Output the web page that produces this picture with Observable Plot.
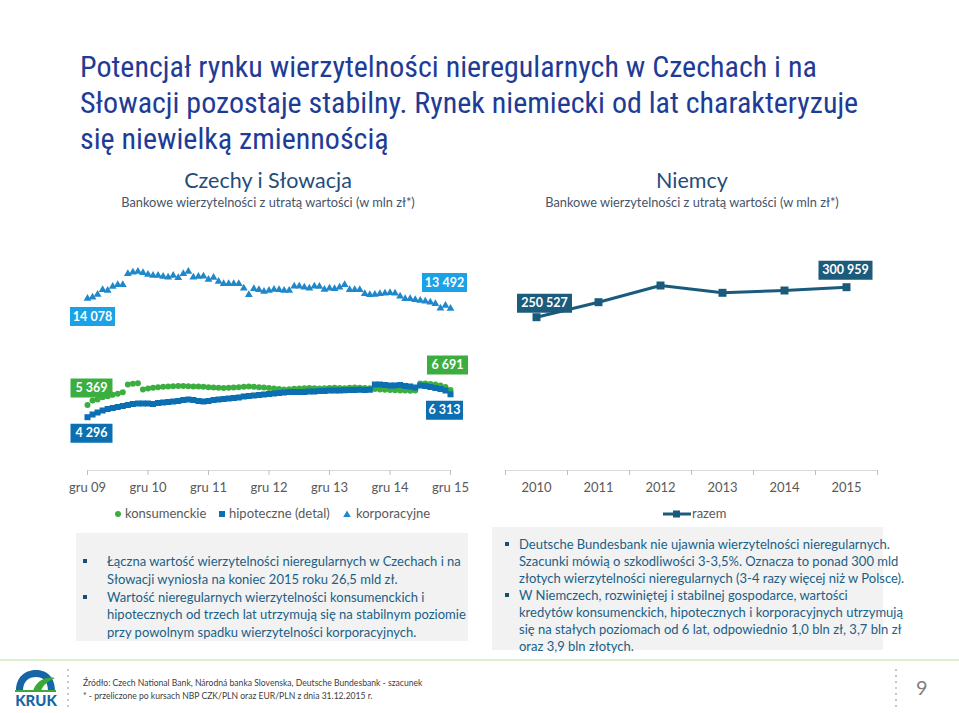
<!DOCTYPE html>
<html><head><meta charset="utf-8">
<script src="https://cdn.jsdelivr.net/npm/d3@7"></script>
<script src="https://cdn.jsdelivr.net/npm/@observablehq/plot@0.6"></script>
<style>
body{margin:0;background:#fff;}
#root{position:relative;width:959px;height:713px;overflow:hidden;font-family:Lato,"Open Sans",sans-serif;}
.abs{position:absolute;white-space:nowrap;}
#title{left:80px;top:49px;font-family:"Liberation Sans Narrow","Roboto Condensed",Roboto,sans-serif;font-size:30px;line-height:36px;color:#1e3c96;}
.hd{font-size:21.5px;color:#1f4e79;text-align:center;width:320px;}
.sub{font-size:12.8px;color:#44546a;text-align:center;width:320px;}
.box{background:#f2f2f2;color:#1b5f86;font-size:13px;}
.ln{position:relative;}
.bul{position:absolute;width:4px;height:4px;background:#1b4f72;}
.leg{font-size:13px;color:#595959;}
.plotwrap svg{overflow:visible;}
</style></head>
<body><div id="root">
<div id="title" class="abs">Potencjał rynku wierzytelności nieregularnych w Czechach i na<br>Słowacji pozostaje stabilny. Rynek niemiecki od lat charakteryzuje<br>się niewielką zmiennością</div>
<div class="abs hd" style="left:108px;top:167px;">Czechy i Słowacja</div>
<div class="abs sub" style="left:108px;top:194px;">Bankowe wierzytelności z utratą wartości (w mln zł*)</div>
<div class="abs hd" style="left:532px;top:167px;">Niemcy</div>
<div class="abs sub" style="left:532px;top:194px;">Bankowe wierzytelności z utratą wartości (w mln zł*)</div>

<div id="pTop" class="abs plotwrap" style="left:70px;top:255px;"></div>
<div id="pBot" class="abs plotwrap" style="left:70px;top:340px;"></div>
<div id="pRight" class="abs plotwrap" style="left:500px;top:255px;"></div>

<div class="abs leg" style="left:113px;top:505px;">
  <svg width="10" height="10" style="position:absolute;left:0;top:4px"><circle cx="5" cy="5" r="3" fill="#3cae3f"/></svg>
  <span style="position:absolute;left:12px;top:0">konsumenckie</span>
  <svg width="10" height="10" style="position:absolute;left:104px;top:4px"><rect x="2" y="2" width="6" height="6" fill="#0b6fb2"/></svg>
  <span style="position:absolute;left:116px;top:0">hipoteczne (detal)</span>
  <svg width="10" height="10" style="position:absolute;left:229px;top:4px"><path d="M5 1.5 L8.8 8 L1.2 8 Z" fill="#1f88cb"/></svg>
  <span style="position:absolute;left:243px;top:0">korporacyjne</span>
</div>
<div class="abs leg" style="left:663px;top:505px;">
  <svg width="30" height="10" style="position:absolute;left:0;top:4px"><line x1="0" y1="5" x2="28" y2="5" stroke="#1a5b7d" stroke-width="3"/><rect x="10" y="1.5" width="7" height="7" fill="#1a5b7d"/></svg>
  <span style="position:absolute;left:29px;top:0">razem</span>
</div>

<div class="abs box" style="left:76px;top:533px;width:392px;height:108px;">
  <div style="position:absolute;left:31px;top:20px;line-height:17.8px;">
    <div class="ln"><span class="bul" style="left:-24px;top:6px"></span>Łączna wartość wierzytelności nieregularnych w Czechach i na<br>Słowacji wyniosła na koniec 2015 roku 26,5 mld zł.</div>
    <div class="ln"><span class="bul" style="left:-24px;top:6px"></span>Wartość nieregularnych wierzytelności konsumenckich i<br>hipotecznych od trzech lat utrzymują się na stabilnym poziomie<br>przy powolnym spadku wierzytelności korporacyjnych.</div>
  </div>
</div>
<div class="abs box" style="left:492px;top:527px;width:391px;height:123px;">
  <div style="position:absolute;left:27px;top:9px;line-height:17px;">
    <div class="ln"><span class="bul" style="left:-14px;top:6px"></span>Deutsche Bundesbank nie ujawnia wierzytelności nieregularnych.<br>Szacunki mówią o szkodliwości 3-3,5%. Oznacza to ponad 300 mld<br>złotych wierzytelności nieregularnych (3-4 razy więcej niż w Polsce).</div>
    <div class="ln"><span class="bul" style="left:-14px;top:6px"></span>W Niemczech, rozwiniętej i stabilnej gospodarce, wartości<br>kredytów konsumenckich, hipotecznych i korporacyjnych utrzymują<br>się na stałych poziomach od 6 lat, odpowiednio 1,0 bln zł, 3,7 bln zł<br>oraz 3,9 bln złotych.</div>
  </div>
</div>

<div class="abs" style="left:0;top:659px;width:959px;height:2px;background:#dcefcf;"></div>
<svg class="abs" style="left:10px;top:667px" width="52" height="42">
  <path d="M6 24 C6 9 16 3 26 3 C36 3 45 9 45 24 L38 24 C38 14 33 10 26 10 C19 10 13 14 13 24 Z" fill="#1565a8"/>
  <path d="M23 24 C26 15 34 9 45 11 C38 14 33 18 31 24 Z" fill="#3aaa35"/>
  <rect x="5" y="23" width="41" height="2" fill="#3aaa35"/>
  <text x="26" y="39" text-anchor="middle" font-family="Lato,sans-serif" font-weight="900" font-size="15" fill="#1565a8">KRUK</text>
</svg>
<div class="abs" style="left:67px;top:667px;width:2px;height:42px;background-image:radial-gradient(circle,#c8c8c8 1px,transparent 1.2px);background-size:2px 6px;"></div>
<div class="abs" style="left:895px;top:667px;width:2px;height:42px;background-image:radial-gradient(circle,#c8c8c8 1px,transparent 1.2px);background-size:2px 6px;"></div>
<div class="abs" style="left:83px;top:677px;font-size:8.6px;line-height:12.5px;color:#404040;">Źródło: Czech National Bank, Národná banka Slovenska, Deutsche Bundesbank - szacunek<br>* - przeliczone po kursach NBP CZK/PLN oraz EUR/PLN z dnia 31.12.2015 r.</div>
<div class="abs" style="left:916px;top:675px;font-size:20px;color:#7f7f7f;">9</div>
</div>

<script>
// ---- data ----
const tickLabels = ["gru 09","gru 10","gru 11","gru 12","gru 13","gru 14","gru 15"];
const konsumenckie = [5369,5766,5854,6056,6144,6266,6354,6496,7174,7235,7288,6734,6822,6883,6936,6971,6998,7024,7042,7042,7024,6998,6998,6971,6936,6910,6883,6866,6883,6910,6936,6971,6998,6971,6936,6910,6866,6822,6778,6734,6760,6795,6822,6848,6866,6848,6822,6848,6866,6883,6866,6848,6883,6910,6883,6866,6848,6778,6734,6707,6690,6672,6646,6646,6619,6646,7262,7262,7218,7174,7086,6954,6691];
const hipoteczne = [4296,4534,4710,4886,5018,5106,5194,5282,5370,5458,5502,5502,5502,5458,5546,5590,5634,5678,5722,5810,5854,5810,5722,5678,5722,5810,5854,5898,5942,5986,6030,6118,6162,6206,6250,6294,6338,6382,6426,6470,6514,6514,6514,6514,6558,6558,6602,6602,6646,6646,6646,6668,6690,6690,6712,6690,6712,7174,7174,7130,7086,7086,7130,7042,6998,6910,7086,7042,6954,6866,6778,6646,6313];
const korporacyjne = [14078,14157,14313,14586,14547,14782,14879,14879,15524,15622,15661,15582,15485,15426,15426,15368,15329,15426,15289,15524,15661,15329,15368,15387,15192,15309,15075,14938,14938,14938,14938,14684,14293,14645,14586,14489,14547,14606,14586,14547,14547,14801,14801,14743,14684,14801,14782,14606,14684,14645,14743,14879,14586,14586,14586,14352,14293,14313,14352,14391,14411,14391,14215,14059,14059,14001,13962,13922,13864,13766,13512,13669,13492];
const lata = [2010,2011,2012,2013,2014,2015];
const razem = [250527,275742,303815,291543,295410,300959];

// ---- helpers ----
const fmt = d3.formatLocale({decimal:",", thousands:"\u00a0", grouping:[3], currency:["",""]}).format(",d");
const box = (w,h) => ({draw(ctx){ ctx.moveTo(-w/2,-h/2); ctx.lineTo(w/2,-h/2); ctx.lineTo(w/2,h/2); ctx.lineTo(-w/2,h/2); ctx.closePath(); }});
function tag(x, y, dx, dy, w, fill){
  const d = [{x, y}];
  return [
    Plot.dot(d, {x:"x", y:"y", dx, dy, symbol: box(w,19), fill, r: 5}),
    Plot.text(d, {x:"x", y:"y", dx, dy, text: d => fmt(d.y), fill:"white", fontWeight:"bold", fontSize:12.5})
  ];
}
const monthTicks = tickLabels.map((_, i) => i * 12);
const plotStyle = {background:"transparent", overflow:"visible", font:"13px Lato, sans-serif", color:"#595959"};
const C_CONS = "#3cae3f", C_MORT = "#0b6fb2", C_CORP = "#1f88cb";

// ---- left top: korporacyjne ----
const corpData = korporacyjne.map((v, i) => ({i, v}));
document.getElementById("pTop").append(Plot.plot({
  width: 410, height: 75, marginLeft: 17, marginRight: 30, marginTop: 0, marginBottom: 0,
  style: plotStyle,
  x: {domain: [0, 72], axis: null},
  y: {domain: [12203, 16598], axis: null},
  marks: [
    Plot.dot(corpData, {x:"i", y:"v", symbol:"triangle", r: 2.9, fill: C_CORP}),
    ...tag(0, korporacyjne[0], 5, 18, 45, "#1ba2e6"),
    ...tag(72, korporacyjne[72], -6, -26, 45, "#1ba2e6")
  ]
}));

// ---- left bottom: konsumenckie + hipoteczne ----
const consData = konsumenckie.map((v, i) => ({i, v}));
const mortData = hipoteczne.map((v, i) => ({i, v}));
document.getElementById("pBot").append(Plot.plot({
  width: 410, height: 160, marginLeft: 17, marginRight: 30, marginTop: 0, marginBottom: 30,
  style: plotStyle,
  x: {domain: [0, 72], axis: null},
  y: {domain: [-394, 11046], axis: null},
  marks: [
    Plot.frame({anchor: "bottom", stroke: "#d9d9d9"}),
    Plot.axisX({ticks: monthTicks, tickSize: 5, tickPadding: 7, tickFormat: d => tickLabels[d / 12], stroke: "#bfbfbf", fill: "#595959"}),
    Plot.dot(consData, {x:"i", y:"v", r: 3, fill: C_CONS}),
    Plot.dot(mortData, {x:"i", y:"v", symbol:"square", r: 3.4, fill: C_MORT}),
    ...tag(0, konsumenckie[0], 4, -17, 42, C_CONS),
    ...tag(72, konsumenckie[72], -3, -25, 41, C_CONS),
    ...tag(0, hipoteczne[0], 4, 16, 42, C_MORT),
    ...tag(72, hipoteczne[72], -6, 16, 37, C_MORT)
  ]
}));

// ---- right: Niemcy razem ----
const deData = lata.map((r, i) => ({r, v: razem[i]}));
const bounds = lata.map(r => r - 0.5).concat([lata[lata.length - 1] + 0.5]);
document.getElementById("pRight").append(Plot.plot({
  width: 390, height: 245, marginLeft: 5, marginRight: 13, marginTop: 0, marginBottom: 30,
  style: plotStyle,
  x: {domain: [bounds[0], bounds[bounds.length - 1]], axis: null},
  y: {domain: [-7170, 354245], axis: null},
  marks: [
    Plot.frame({anchor: "bottom", stroke: "#d9d9d9"}),
    Plot.axisX({ticks: bounds, tickSize: 5, tickFormat: () => "", stroke: "#bfbfbf"}),
    Plot.axisX({ticks: lata, tickSize: 0, tickPadding: 12, tickFormat: d => String(d), fill: "#595959"}),
    Plot.line(deData, {x:"r", y:"v", stroke:"#1a5b7d", strokeWidth: 3}),
    Plot.dot(deData, {x:"r", y:"v", symbol:"square", r: 4.5, fill:"#1a5b7d"}),
    ...tag(lata[0], razem[0], 8, -14, 55, "#1b5b7c"),
    ...tag(lata[5], razem[5], -1, -17, 54, "#1b5b7c")
  ]
}));
</script>
</body></html>
